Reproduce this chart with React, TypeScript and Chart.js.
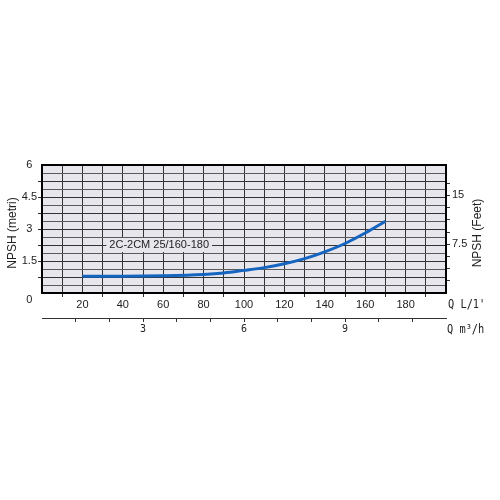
import React, { useEffect, useRef } from 'react';
import { Chart, registerables } from 'chart.js';

Chart.register(...registerables);

// ---- data ----
const flowLmin = [20, 40, 60, 80, 90, 100, 110, 120, 130, 140, 150, 160, 170];
const npshMetri = [0.79, 0.79, 0.81, 0.87, 0.94, 1.06, 1.19, 1.37, 1.61, 1.93, 2.32, 2.81, 3.36];
const seriesName = '2C-2CM 25/160-180';
const xLabelValues = [20, 40, 60, 80, 100, 120, 140, 160, 180];
const yLabelValues = [1.5, 3, 4.5, 6];
const feetLabelValues = [7.5, 15];
const m3hLabelValues = [3, 6, 9];
const leftTitle = 'NPSH (metri)';
const rightTitle = 'NPSH (Feet)';
const flowUnitLabel = "Q L/1'";
const m3hUnitLabel = 'Q m\u00B3/h';

const FT_PER_M = 1 / 0.3048;
const INK = '#222222';
const GRID = '#333333';
const GRID_MINOR = '#5a5a5a';
const CLEAR = 'rgba(0,0,0,0)';
const PLOT_BG = '#e6e6ec';
const SANS = "'Liberation Sans', Arial, sans-serif";
const MONO = "'DejaVu Sans Mono', 'Liberation Mono', monospace";

const isMult = (v: number, step: number) => Math.abs(v / step - Math.round(v / step)) < 1e-6;

const decor = {
  id: 'decor',
  beforeDraw(chart: any) {
    const { ctx, chartArea: a } = chart;
    ctx.save();
    ctx.fillStyle = PLOT_BG;
    ctx.fillRect(a.left, a.top, a.right - a.left, a.bottom - a.top);
    ctx.restore();
  },
  beforeDatasetsDraw(chart: any) {
    const { ctx } = chart;
    const x = chart.scales.x.getPixelForValue(58);
    const y = chart.scales.y.getPixelForValue(2.25);
    ctx.save();
    ctx.font = `11px ${SANS}`;
    const w = ctx.measureText(seriesName).width;
    ctx.fillStyle = PLOT_BG;
    ctx.fillRect(x - w / 2 - 3, y - 7, w + 6, 14);
    ctx.fillStyle = INK;
    ctx.textAlign = 'center';
    ctx.textBaseline = 'middle';
    ctx.fillText(seriesName, x, y);
    ctx.restore();
  },
  afterDraw(chart: any) {
    const { ctx, chartArea: a } = chart;
    ctx.save();
    ctx.strokeStyle = '#000';
    ctx.lineWidth = 2;
    ctx.strokeRect(a.left, a.top, a.right - a.left, a.bottom - a.top);

    const midY = (a.top + a.bottom) / 2 + 4;
    ctx.fillStyle = INK;
    ctx.font = `12px ${SANS}`;
    ctx.textAlign = 'center';
    ctx.textBaseline = 'middle';
    ctx.save();
    ctx.translate(13, midY);
    ctx.rotate(-Math.PI / 2);
    ctx.fillText(leftTitle, 0, 0);
    ctx.restore();
    ctx.save();
    ctx.translate(478, midY);
    ctx.rotate(-Math.PI / 2);
    ctx.fillText(rightTitle, 0, 0);
    ctx.restore();

    ctx.font = `12px ${MONO}`;
    ctx.textAlign = 'left';
    const xb = chart.scales.x;
    const x2 = chart.scales.x2;
    ctx.save();
    ctx.translate(a.right + 2, xb.top + 12);
    ctx.scale(0.86, 1);
    ctx.fillText(flowUnitLabel, 0, 0);
    ctx.restore();
    ctx.save();
    ctx.translate(a.right + 1, x2.top + 12);
    ctx.scale(0.86, 1);
    ctx.fillText(m3hUnitLabel, 0, 0);
    ctx.restore();
    ctx.restore();
  },
};

export default function App() {
  const ref = useRef<HTMLCanvasElement | null>(null);

  useEffect(() => {
    if (!ref.current) return;
    Chart.defaults.font.family = SANS;
    const chart = new Chart(ref.current, {
      type: 'line',
      data: {
        datasets: [
          {
            label: seriesName,
            data: flowLmin.map((x, i) => ({ x, y: npshMetri[i] })),
            xAxisID: 'x',
            yAxisID: 'y',
            borderColor: '#1565c0',
            borderWidth: 3,
            pointRadius: 0,
            fill: false,
            cubicInterpolationMode: 'monotone',
          },
        ],
      },
      options: {
        animation: false,
        responsive: false,
        devicePixelRatio: 1,
        layout: { padding: { top: 165, left: 0, right: 0, bottom: 160 } },
        plugins: { legend: { display: false }, tooltip: { enabled: false } },
        scales: {
          x: {
            type: 'linear',
            position: 'bottom',
            min: 0,
            max: 200,
            ticks: {
              stepSize: 10,
              autoSkip: false,
              maxRotation: 0,
              padding: 1,
              color: INK,
              font: { size: 11 },
              callback: (v: any) => (xLabelValues.includes(Number(v)) ? String(v) : ''),
            },
            grid: {
              color: GRID,
              lineWidth: 1,
              tickLength: 4,
              tickColor: (c: any) => (c.tick && c.tick.value % 20 === 10 ? GRID : CLEAR),
            },
            border: { display: false },
            afterFit: (s: any) => {
              s.height = 25;
            },
          },
          x2: {
            type: 'linear',
            position: 'bottom',
            min: 0,
            max: 12,
            ticks: {
              stepSize: 1,
              autoSkip: false,
              maxRotation: 0,
              padding: 1,
              color: INK,
              font: { size: 10, family: MONO },
              callback: (v: any) => (m3hLabelValues.includes(Number(v)) ? String(v) : ''),
            },
            grid: {
              drawOnChartArea: false,
              tickLength: 4,
              tickColor: (c: any) => (c.tick && c.tick.value > 0 && c.tick.value < 12 ? GRID : CLEAR),
            },
            border: { display: true, color: GRID, width: 1 },
            afterFit: (s: any) => {
              s.height = 22;
            },
          },
          y: {
            type: 'linear',
            position: 'left',
            min: 0,
            max: 6,
            ticks: {
              stepSize: 0.375,
              autoSkip: false,
              crossAlign: 'center',
              padding: 1,
              color: INK,
              font: { size: 11 },
              callback: (v: any) => {
                const n = Number(v);
                if (n === 0) return ['', '0'];
                return yLabelValues.includes(n) ? String(n) : '';
              },
            },
            grid: {
              color: (c: any) => (c.tick && isMult(c.tick.value, 0.75) ? GRID : GRID_MINOR),
              lineWidth: 1,
              tickLength: 4,
              tickColor: (c: any) =>
                c.tick && c.tick.value > 0 && c.tick.value < 6 && isMult(c.tick.value, 0.75) ? GRID : CLEAR,
            },
            border: { display: false },
            afterFit: (s: any) => {
              s.width = 42;
            },
          },
          y2: {
            type: 'linear',
            position: 'right',
            min: 0,
            max: 6 * FT_PER_M,
            ticks: {
              stepSize: 1.875,
              autoSkip: false,
              padding: 2,
              color: INK,
              font: { size: 11 },
              callback: (v: any) => {
                const n = Number(v);
                return feetLabelValues.some((f) => Math.abs(f - n) < 1e-6) ? String(n) : '';
              },
            },
            grid: {
              drawOnChartArea: false,
              tickLength: 4,
              tickColor: (c: any) =>
                c.tick && c.tick.value > 0 && c.tick.value < 19 && isMult(c.tick.value, 1.875) ? GRID : CLEAR,
            },
            border: { display: false },
            afterFit: (s: any) => {
              s.width = 54;
            },
          },
        },
      } as any,
      plugins: [decor],
    });
    return () => chart.destroy();
  }, []);

  return (
    <div style={{ position: 'absolute', left: 0, top: 0, width: 500, height: 500, background: '#fff' }}>
      <canvas ref={ref} width={500} height={500} style={{ width: 500, height: 500, display: 'block' }} />
    </div>
  );
}
